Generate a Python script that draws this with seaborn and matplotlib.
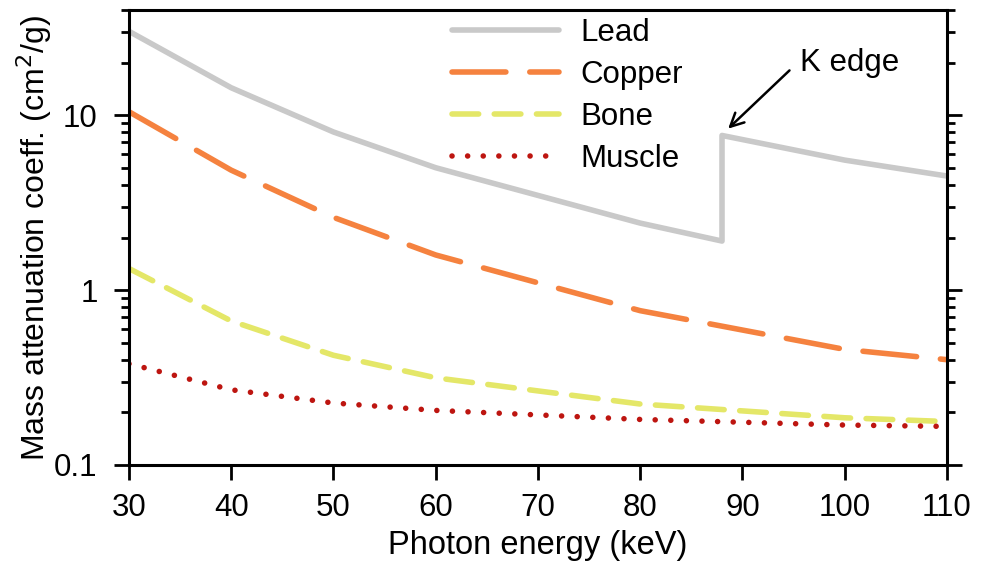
import pandas as pd
import matplotlib
matplotlib.use("Agg")
import matplotlib.pyplot as plt
import matplotlib.ticker as mticker
import seaborn as sns

# energies (keV) and mass attenuation coefficients (cm2/g)
lead_e = [30, 40, 50, 60, 80, 88, 88, 100, 110]
lead_mu = [30.3, 14.4, 8.04, 5.02, 2.42, 1.91, 7.68, 5.55, 4.5]
copper_e = [30, 40, 50, 60, 80, 100, 110]
copper_mu = [10.5, 4.86, 2.61, 1.59, 0.763, 0.458, 0.40]
bone_e = [30, 40, 50, 60, 80, 100, 110]
bone_mu = [1.33, 0.666, 0.424, 0.315, 0.223, 0.186, 0.177]
muscle_e = [30, 40, 50, 60, 80, 100, 110]
muscle_mu = [0.379, 0.269, 0.226, 0.205, 0.182, 0.169, 0.166]

sns.set_style("ticks", {"axes.edgecolor": "black", "text.color": "black",
                        "xtick.color": "black", "ytick.color": "black",
                        "axes.labelcolor": "black"})
plt.rcParams["font.family"] = ["Liberation Sans", "DejaVu Sans"]
fs = 22.5
plt.rcParams["font.size"] = fs

fig, ax = plt.subplots(figsize=(9.89, 5.69), dpi=100)
fig.subplots_adjust(left=0.1304, right=0.9575, top=0.982, bottom=0.183)

lw = 4.0
series = [
    ("Lead", lead_e, lead_mu, "#c9c9c9", "-"),
    ("Copper", copper_e, copper_mu, "#f5823f", (0, (9.7, 4.3))),
    ("Bone", bone_e, bone_mu, "#e4e768", (0, (4.8, 2.8))),
    ("Muscle", muscle_e, muscle_mu, "#bd1510", (0, (0.01, 2.8))),
]
for name, e, mu, col, ls in series:
    df = pd.DataFrame({"energy": e, "mu": mu})
    sns.lineplot(data=df, x="energy", y="mu", estimator=None, sort=False,
                 color=col, linewidth=lw, linestyle=ls, label=name,
                 dash_capstyle="round", solid_capstyle="round", ax=ax)

ax.set_yscale("log")
ax.set_xlim(30, 110)
ax.set_ylim(0.1, 40)
ax.set_xticks(range(30, 111, 10))
ax.yaxis.set_major_locator(mticker.FixedLocator([0.1, 1, 10]))
ax.yaxis.set_major_formatter(mticker.FixedFormatter(["0.1", "1", "10"]))
ax.yaxis.set_minor_locator(mticker.LogLocator(base=10, subs=range(2, 10)))
ax.yaxis.set_minor_formatter(mticker.NullFormatter())

for s in ax.spines.values():
    s.set_linewidth(2.2)
ax.tick_params(axis="both", which="major", direction="out", length=10.5, width=2.0,
               labelsize=fs, pad=10)
ax.tick_params(axis="y", which="major", pad=12)
ax.tick_params(axis="y", which="minor", direction="out", length=6, width=2.0)
ax.tick_params(axis="y", which="both", left=True, right=True, labelright=False)
ax.tick_params(axis="x", which="both", top=False)

ax.set_xlabel("Photon energy (keV)", fontsize=23.5, labelpad=5)
ax.set_ylabel("Mass attenuation coeff. (cm$^2$/g)", fontsize=23, labelpad=0)

ax.text(95.6, 20, "K edge", fontsize=fs, ha="left", va="center")
ax.annotate("", xy=(88.6, 8.4), xytext=(94.6, 18.1),
            arrowprops=dict(arrowstyle="->", color="black", lw=1.8,
                            mutation_scale=24, shrinkA=0, shrinkB=0))

leg = ax.legend(loc="upper left", bbox_to_anchor=(0.38, 1.01), frameon=False,
                fontsize=fs, handlelength=3.4, handletextpad=0.7, labelspacing=0.38,
                borderaxespad=0)

plt.savefig("out.png", dpi=100)
